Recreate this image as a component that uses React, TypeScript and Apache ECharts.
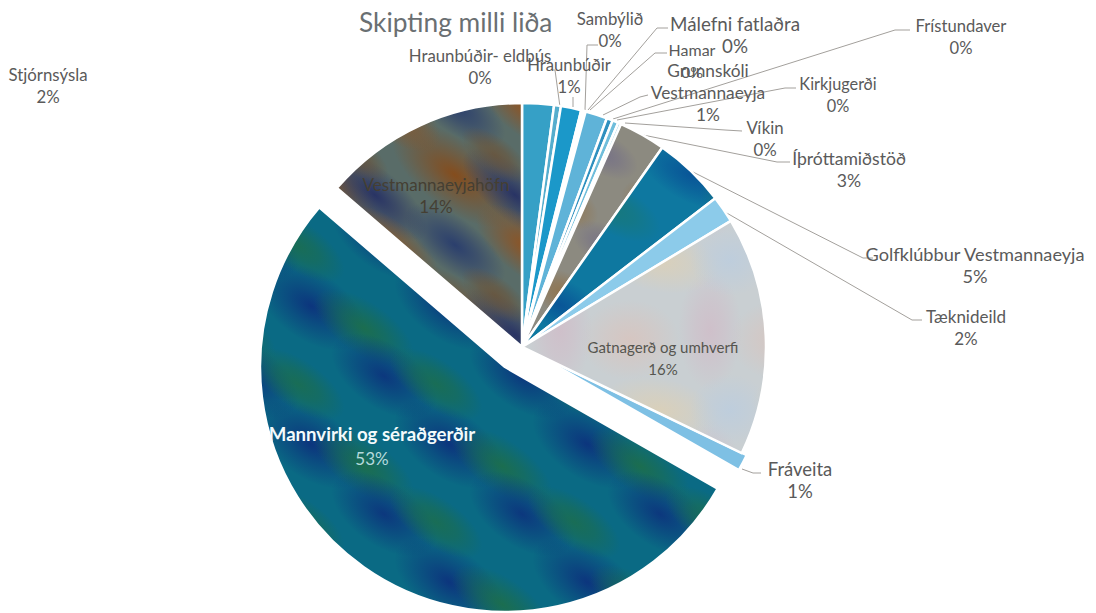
import React, { useEffect, useRef } from "react";
import * as echarts from "echarts";

const chartTitle = "Skipting milli liða";
const categories = [
  "Stjórnsýsla",
  "Hraunbúðir- eldbús",
  "Hraunbúðir",
  "Sambýlið",
  "Málefni fatlaðra",
  "Hamar",
  "Grunnskóli\nVestmannaeyja",
  "Frístundaver",
  "Kirkjugerði",
  "Víkin",
  "Íþróttamiðstöð",
  "Golfklúbbur Vestmannaeyja",
  "Tæknideild",
  "Gatnagerð og umhverfi",
  "Fráveita",
  "Mannvirki og séraðgerðir",
  "Vestmannaeyjahöfn",
];
const values = [2.1, 0.45, 1.35, 0.1, 0.1, 0.1, 1.45, 0.4, 0.4, 0.2, 3.1, 4.8, 1.8, 15.8, 1.1, 53, 13.7];

// Layout only: label centres, font sizes and leader-line points, by category index.
const labelCentres: [number, number][] = [
  [48, 85], [480, 66], [569, 76], [610, 29], [735, 34], [692, 60], [708, 92], [961, 37], [838, 94],
  [765, 138], [849, 169], [975, 265], [966, 327], [663, 358], [800, 480], [372, 446], [436, 195],
];
const labelSizes = [16.8, 16.8, 16.7, 16.8, 18.8, 16, 17.3, 16.6, 16.3, 16.8, 17.6, 18.2, 17, 15, 18.5, 18.6, 17];
const leaders: ([number, number][] | null)[] = [
  null,
  [[560, 107], [555, 70], [552, 70]],
  [[573, 107], [573, 98], [573, 97]],
  [[585, 110], [587, 45], [598, 45]],
  [[588, 110], [657, 28], [668, 28]],
  [[590, 110], [655, 53], [667, 53]],
  [[603, 115], [640, 97], [648, 95]],
  [[613, 119], [895, 30], [910, 30]],
  [[617, 120], [785, 88], [796, 88]],
  [[625, 123], [725, 130], [742, 131]],
  [[643, 135], [777, 162], [790, 162]],
  [[693, 172], [863, 258], [873, 258]],
  [[725, 212], [912, 320], [922, 320]],
  null,
  [[742, 469], [753, 473], [761, 473]],
  null,
  null,
];

type Blob = [number, number, number, number, number, string];

function tile(size: number, base: string, blobs: Blob[]) {
  const c = document.createElement("canvas");
  c.width = size;
  c.height = size;
  const g = c.getContext("2d")!;
  g.fillStyle = base;
  g.fillRect(0, 0, size, size);
  for (const [x, y, rx, ry, rot, col] of blobs) {
    for (const ox of [-size, 0, size]) {
      for (const oy of [-size, 0, size]) {
        g.save();
        g.translate(x + ox, y + oy);
        g.rotate(rot);
        g.scale(rx, ry);
        const grad = g.createRadialGradient(0, 0, 0, 0, 0, 1);
        grad.addColorStop(0, col);
        grad.addColorStop(0.45, col.replace(/[\d.]+\)$/, "0.5)"));
        grad.addColorStop(1, col.replace(/[\d.]+\)$/, "0)"));
        g.fillStyle = grad;
        g.beginPath();
        g.arc(0, 0, 1, 0, Math.PI * 2);
        g.fill();
        g.restore();
      }
    }
  }
  return { image: c, repeat: "repeat", imageWidth: size, imageHeight: size };
}

function makeColors(): any[] {
  const teal = tile(138, "#0a6a84", [
    [35, 30, 62, 34, 0.6, "rgba(12,50,125,0.95)"],
    [88, 52, 58, 26, 0.6, "rgba(30,110,70,0.85)"],
    [108, 100, 60, 32, 0.6, "rgba(12,50,125,0.9)"],
    [22, 108, 54, 24, 0.6, "rgba(30,110,70,0.75)"],
  ]);
  const rust = tile(140, "#596c68", [
    [35, 35, 75, 34, 0.65, "rgba(135,75,25,0.95)"],
    [95, 55, 65, 26, 0.7, "rgba(35,45,100,0.9)"],
    [108, 108, 62, 28, 0.65, "rgba(150,80,25,0.9)"],
    [35, 105, 60, 26, 0.65, "rgba(35,55,110,0.85)"],
    [75, 15, 40, 18, 0.65, "rgba(110,80,50,0.7)"],
  ]);
  const pale = tile(150, "#c9cfd2", [
    [30, 40, 50, 40, 0, "rgba(216,196,190,0.85)"],
    [110, 30, 32, 60, 0, "rgba(208,188,200,0.8)"],
    [60, 110, 60, 32, 0.2, "rgba(220,208,182,0.85)"],
    [130, 110, 40, 36, 0, "rgba(188,205,222,0.85)"],
  ]);
  const golf = tile(130, "#0e78a0", [
    [40, 45, 55, 26, 0.5, "rgba(8,80,150,0.85)"],
    [95, 80, 50, 24, 0.5, "rgba(25,120,115,0.75)"],
  ]);
  const sport = tile(90, "#8c8a80", [
    [25, 25, 36, 22, 0.5, "rgba(145,110,65,0.8)"],
    [65, 65, 36, 20, 0.5, "rgba(115,110,135,0.8)"],
  ]);
  return [
    "#36a0c6", "#55adcd", "#1b98c9", "#7cc0dc", "#7cc0dc", "#7cc0dc", "#5fb3d8", "#2f90bf", "#6fbddb", "#9ad0e6",
    sport, golf, "#8ccbea", pale, "#7ec0e4", teal, rust,
  ];
}

const total = values.reduce((a, b) => a + b, 0);
const pctText = (v: number) => `${Math.round((v / total) * 100)}%`;
const MANNVIRKI = 15;
const FRAVEITA = 14;
const HOFN = 16;
const GATNA = 13;

const RADIUS = 244;
const pulled: [number, [number, number]][] = [
  [MANNVIRKI, [505, 367]],
  [FRAVEITA, [527, 349]],
];

export default function App() {
  const ref = useRef<HTMLDivElement>(null);
  useEffect(() => {
    document.body.style.margin = "0";
    const chart = echarts.init(ref.current!, undefined, { renderer: "svg" });
    const colors = makeColors();
    const hidden = { color: "transparent", borderWidth: 0 };
    const mainData = categories.map((name, i) => {
      const isPulled = i === MANNVIRKI || i === FRAVEITA;
      const item: any = {
        name,
        value: values[i],
        itemStyle: isPulled ? hidden : { color: colors[i] },
        labelLine: { show: !!leaders[i] },
        label: { fontSize: labelSizes[i] },
      };
      if (i === MANNVIRKI) {
        item.label = {
          formatter: `{a|${name}}\n{b|${pctText(values[i])}}`,
          rich: {
            a: { color: "#f4fbfc", fontWeight: "bold", fontSize: labelSizes[i], lineHeight: 24, fontFamily: "Lato" },
            b: { color: "#b5dadd", fontSize: 17, lineHeight: 24, fontFamily: "Lato" },
          },
        };
      }
      if (i === HOFN) item.label.color = "#453f33";
      if (i === GATNA) item.label.color = "#55554f";
      return item;
    });
    const common = {
      type: "pie",
      radius: [0, RADIUS],
      startAngle: 90,
      clockwise: true,
      silent: true,
      itemStyle: { borderColor: "#ffffff", borderWidth: 2.5 },
    };
    const pulledSeries = pulled.map(([idx, center]) => ({
      ...common,
      z: 1,
      center,
      radius: [0, idx === MANNVIRKI ? 245 : RADIUS],
      label: { show: false },
      labelLine: { show: false },
      data: categories.map((name, i) => ({
        name,
        value: values[i],
        itemStyle: i === idx ? { color: colors[i] } : hidden,
      })),
    }));
    chart.setOption({
      animation: false,
      backgroundColor: "#ffffff",
      title: {
        text: chartTitle,
        left: 354,
        top: 4,
        textStyle: { fontFamily: "Lato", fontSize: 26.3, fontWeight: "normal", color: "#6a6f72" },
      },
      series: [
        ...pulledSeries,
        {
          ...common,
          z: 3,
          center: [522, 347],
          avoidLabelOverlap: false,
          data: mainData,
          label: {
            show: true,
            position: "outside",
            formatter: (p: any) => `${p.name}\n${pctText(p.value)}`,
            fontFamily: "Lato",
            fontSize: 16.5,
            lineHeight: 22,
            color: "#5a5a5a",
            align: "center",
          },
          labelLine: { show: true, lineStyle: { color: "#a3a09c", width: 1 } },
          labelLayout: (p: any) => {
            const [x, y] = labelCentres[p.dataIndex];
            const pts = leaders[p.dataIndex];
            const out: any = { x, y, align: "center", verticalAlign: "middle", hideOverlap: false };
            if (pts) out.labelLinePoints = pts;
            return out;
          },
        },
      ],
    });
    return () => chart.dispose();
  }, []);
  return <div ref={ref} style={{ width: 1096, height: 613, position: "absolute", left: 0, top: 0 }} />;
}
